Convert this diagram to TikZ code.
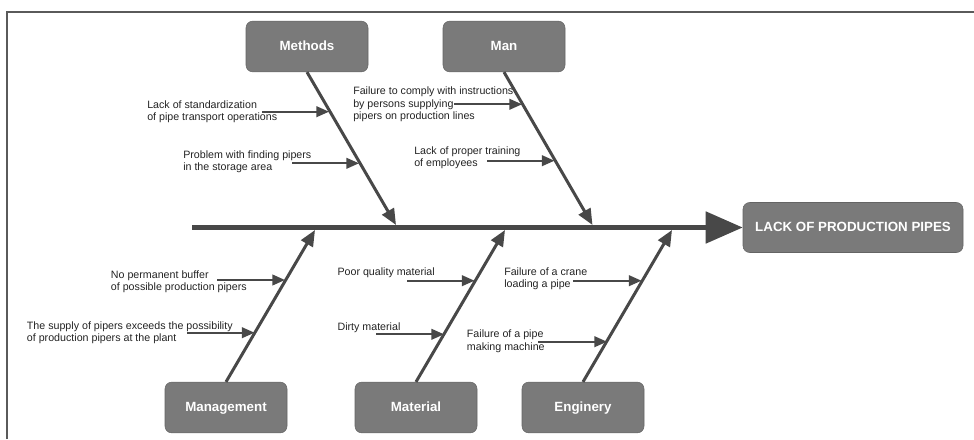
\documentclass[tikz,border=0pt]{standalone}
\usepackage{fontspec}
\setmainfont{Liberation Sans}
\usetikzlibrary{arrows.meta}
\definecolor{boxgray}{RGB}{122,122,122}
\definecolor{boxedge}{RGB}{100,100,100}
\definecolor{linegray}{RGB}{72,72,72}
\definecolor{textgray}{RGB}{35,35,35}
\definecolor{framegray}{RGB}{90,90,90}

\begin{document}
\begin{tikzpicture}[
  x=0.75pt, y=-0.75pt,
  cause/.style={rectangle, rounded corners=5pt, draw=boxedge, fill=boxgray,
                minimum width=91.5pt, minimum height=38pt, text=white,
                text height=1.5ex, text depth=.25ex,
                font=\fontsize{10}{12}\selectfont\bfseries},
  effect/.style={cause, minimum width=165pt, minimum height=37.5pt},
  spine/.style={-{Triangle[length=27.75pt, width=23.25pt]}, line width=3.75pt, color=linegray},
  bone/.style={-{Triangle[length=12pt, width=10pt]}, line width=2.25pt, color=linegray},
  twig/.style={-{Triangle[length=9.5pt, width=8pt]}, line width=1.5pt, color=linegray},
  note/.style={anchor=west, align=left, inner sep=0pt, text=textgray,
               font=\fontsize{8}{9.2}\selectfont}
]
\useasboundingbox (0,0) rectangle (974,439);
\draw[framegray, line width=1.5pt] (7,439) -- (7,12) -- (974,12);

\node[cause] (methods) at (307,46.5) {Methods};
\node[cause] (man) at (504,46.5) {Man};
\node[cause] (mgmt) at (226,407.5) {Management};
\node[cause] (material) at (416,407.5) {Material};
\node[cause] (enginery) at (583,407.5) {Enginery};
\node[effect] (problem) at (853,227.5) {LACK OF PRODUCTION PIPES};

\coordinate (tail) at (192,227.5);
\coordinate (meth_tip) at (396,225);
\coordinate (man_tip) at (592.5,225);
\coordinate (mgmt_tip) at (315,230);
\coordinate (mat_tip) at (505,230);
\coordinate (eng_tip) at (672,230);

\draw[spine] (tail) -- (problem.west);
\draw[bone] (methods.south) -- (meth_tip);
\draw[bone] (man.south) -- (man_tip);
\draw[bone] (mgmt.north) -- (mgmt_tip);
\draw[bone] (material.north) -- (mat_tip);
\draw[bone] (enginery.north) -- (eng_tip);

\node[note] (meth_a) at (147,112) {Lack of standardization\\of pipe transport operations};
\node[note] (meth_b) at (183,161.7) {Problem with finding pipers\\in the storage area};
\node[note] (man_a) at (353,104.3) {Failure to comply with instructions\\by persons supplying\\pipers on production lines};
\node[note] (man_b) at (414,157.5) {Lack of proper training\\of employees};
\node[note] (mgmt_a) at (110.7,282) {No permanent buffer\\of possible production pipers};
\node[note] (mgmt_b) at (26.7,333) {The supply of pipers exceeds the possibility\\of production pipers at the plant};
\node[note] (mat_a) at (337.3,272.7) {Poor quality material};
\node[note] (mat_b) at (337.3,327.7) {Dirty material};
\node[note] (eng_a) at (504,279) {Failure of a crane\\loading a pipe};
\node[note] (eng_b) at (466.7,341.2) {Failure of a pipe\\making machine};

\coordinate (meth_a_from) at (262,111.7);   \coordinate (meth_a_to) at (329,111.7);
\coordinate (meth_b_from) at (292,163.3);   \coordinate (meth_b_to) at (359,163.3);
\coordinate (man_a_from) at (454,104.3);    \coordinate (man_a_to) at (522,104.3);
\coordinate (man_b_from) at (487,160.7);    \coordinate (man_b_to) at (554.5,160.7);
\coordinate (mgmt_a_from) at (217,280);     \coordinate (mgmt_a_to) at (285,280);
\coordinate (mgmt_b_from) at (187,332.7);   \coordinate (mgmt_b_to) at (254.5,332.7);
\coordinate (mat_a_from) at (407,280.7);    \coordinate (mat_a_to) at (474.5,280.7);
\coordinate (mat_b_from) at (376,334.3);    \coordinate (mat_b_to) at (444,334.3);
\coordinate (eng_a_from) at (573.3,280.7);  \coordinate (eng_a_to) at (641.5,280.7);
\coordinate (eng_b_from) at (538.3,341.7);  \coordinate (eng_b_to) at (607,341.7);

\foreach \c in {meth_a,meth_b,man_a,man_b,mgmt_a,mgmt_b,mat_a,mat_b,eng_a,eng_b}
  \draw[twig] (\c_from) -- (\c_to);
\end{tikzpicture}
\end{document}
